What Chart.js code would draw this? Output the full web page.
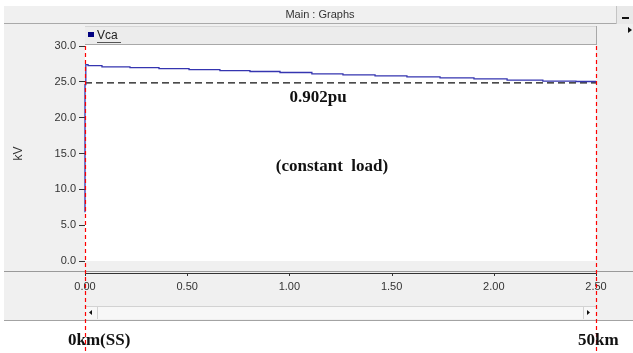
<!DOCTYPE html>
<html>
<head>
<meta charset="utf-8">
<title>Vca</title>
<script src="https://cdn.jsdelivr.net/npm/chart.js@4.4.1/dist/chart.umd.min.js"></script>
<style>
  html, body { margin: 0; padding: 0; background: #fff; overflow: hidden; }
  #graph { display: block; }
</style>
</head>
<body>
<canvas id="graph" width="633" height="353"></canvas>
<script>
// feeder length axis (same units as the graph x axis) and voltage in kV
const distance = [0, 0.004, 0.015, 0.083, 0.22, 0.362, 0.509, 0.66, 0.807, 0.954, 1.11, 1.262, 1.419, 1.575, 1.737, 1.903, 2.065, 2.24, 2.402, 2.5];
const vca = [6.8, 24.6, 27.4, 27.25, 27.1, 26.97, 26.83, 26.7, 26.57, 26.44, 26.3, 26.1, 25.97, 25.83, 25.68, 25.55, 25.4, 25.25, 25.1, 25.05];

const refLevel = 24.85;          // 0.902 pu limit
const refLabel = '0.902pu';
const caseLabel = '(constant  load)';
const startLabel = '0km(SS)';
const endLabel = '50km';
const markers = [0, 2.5];        // substation and feeder end

const uiFont = 'Arial, "Liberation Sans", sans-serif';
const serifBold = 'bold 17px "Liberation Serif", "Times New Roman", serif';

// window frame, legend strip, scrollbar etc
const frame = {
  id: 'frame',
  beforeDraw(chart) {
    const c = chart.ctx;
    const a = chart.chartArea;
    const W = chart.width;
    c.save();
    c.fillStyle = '#fff';
    c.fillRect(0, 0, W, chart.height);

    // title bar
    c.fillStyle = '#f0f0f0';
    c.fillRect(4, 6, W - 4, 18);
    c.fillStyle = '#a9a9a9';
    c.fillRect(4, 23, W - 4, 1);
    c.fillStyle = '#333';
    c.font = '11px ' + uiFont;
    c.textAlign = 'center';
    c.textBaseline = 'middle';
    c.fillText('Main : Graphs', 320, 15);
    // minimize button
    c.fillStyle = '#e9e9e9';
    c.fillRect(617, 6, 16, 18);
    c.fillStyle = '#c4c4c4';
    c.fillRect(616, 6, 1, 18);
    c.fillStyle = '#111';
    c.fillRect(622, 17, 7, 2);

    // panel
    c.fillStyle = '#f0f0f0';
    c.fillRect(4, 24, W - 4, 296);
    c.fillStyle = '#a3a3a3';
    c.fillRect(4, 320, W - 4, 1);

    // legend strip
    c.fillStyle = '#ececec';
    c.fillRect(a.left, 27, a.right - a.left, 18);
    c.fillStyle = '#d6d6d6';
    c.fillRect(a.left, 26, a.right - a.left, 1);
    c.fillStyle = '#a8a8a8';
    c.fillRect(a.left, 44, a.right - a.left, 1);
    c.fillRect(a.right, 26, 1, 19);
    const ds = chart.data.datasets[0];
    c.fillStyle = '#000080';
    c.fillRect(88, 32, 6, 5);
    c.fillStyle = '#222';
    c.textAlign = 'left';
    c.font = '12px ' + uiFont;
    c.fillText(ds.label, 97, 36);
    c.fillStyle = '#555';
    c.fillRect(97, 42, 24, 1);

    // right side arrow
    c.fillStyle = '#111';
    c.beginPath();
    c.moveTo(628, 27);
    c.lineTo(632, 30);
    c.lineTo(628, 33);
    c.fill();

    // plot area
    c.fillStyle = '#fff';
    c.fillRect(a.left, 45, a.right - a.left, a.bottom - 45);

    // x axis lines and ticks
    const x = chart.scales.x;
    c.fillStyle = '#9a9a9a';
    c.fillRect(4, 271, W - 4, 1);
    c.fillStyle = '#333';
    c.fillRect(a.left, 273, a.right - a.left + 1, 1);
    x.ticks.forEach(t => {
      const px = Math.round(x.getPixelForValue(t.value));
      c.fillRect(px, 273, 1, 3);
    });

    // scrollbar
    c.fillStyle = '#f7f7f7';
    c.fillRect(a.left, 306, a.right - a.left, 13);
    c.fillStyle = '#d2d2d2';
    c.fillRect(a.left, 306, a.right - a.left, 1);
    c.fillRect(97, 306, 1, 13);
    c.fillRect(a.right - 13, 306, 1, 13);
    c.fillStyle = '#111';
    c.beginPath();
    c.moveTo(92, 310);
    c.lineTo(89, 312.5);
    c.lineTo(92, 315);
    c.fill();
    c.beginPath();
    c.moveTo(587, 310);
    c.lineTo(590, 312.5);
    c.lineTo(587, 315);
    c.fill();
    c.restore();
  },
  afterDraw(chart) {
    const c = chart.ctx;
    const x = chart.scales.x;
    const a = chart.chartArea;
    c.save();
    // red position markers
    c.strokeStyle = '#ff0000';
    c.lineWidth = 1.2;
    c.setLineDash([4, 3]);
    markers.forEach(m => {
      const px = Math.round(x.getPixelForValue(m)) + 0.5;
      c.beginPath();
      c.moveTo(px, a.top);
      c.lineTo(px, chart.height);
      c.stroke();
    });
    c.setLineDash([]);

    // annotations
    c.fillStyle = '#111';
    c.font = serifBold;
    c.textAlign = 'center';
    c.textBaseline = 'alphabetic';
    c.fillText(refLabel, 318, 102);
    c.fillText(caseLabel, 332, 171);
    c.textAlign = 'left';
    c.fillText(startLabel, 68, 345);
    c.fillText(endLabel, 578, 345);
    c.restore();
  }
};

new Chart(document.getElementById('graph'), {
  type: 'line',
  data: {
    datasets: [{
      label: 'Vca',
      data: distance.map((d, i) => ({ x: d, y: vca[i] })),
      borderColor: '#3535b0',
      borderWidth: 1.3,
      pointRadius: 0,
      stepped: 'after',
      clip: 4
    }, {
      label: refLabel,
      data: [{ x: markers[0], y: refLevel }, { x: markers[1], y: refLevel }],
      borderColor: '#111',
      borderWidth: 1.2,
      borderDash: [7, 4],
      pointRadius: 0
    }]
  },
  options: {
    responsive: false,
    animation: false,
    devicePixelRatio: 1,
    layout: { padding: { top: 46, right: 37, left: 0, bottom: 0 } },
    plugins: { legend: { display: false }, tooltip: { enabled: false } },
    scales: {
      x: {
        type: 'linear',
        min: 0,
        max: 2.5,
        border: { display: false },
        grid: { display: false, drawTicks: false },
        ticks: {
          stepSize: 0.5,
          padding: 19,
          color: '#333',
          font: { family: uiFont, size: 11 },
          maxRotation: 0,
          callback: v => v.toFixed(2)
        },
        afterFit: s => { s.height = 92; }
      },
      y: {
        min: 0,
        max: 30,
        border: { display: false },
        grid: { drawOnChartArea: false, drawTicks: true, tickLength: 6, color: '#333' },
        ticks: {
          stepSize: 5,
          padding: 3,
          color: '#333',
          font: { family: uiFont, size: 11 },
          callback: v => v.toFixed(1)
        },
        title: {
          display: true,
          text: 'kV',
          color: '#333',
          font: { family: uiFont, size: 12 },
          padding: { top: 11, bottom: 0 }
        },
        afterFit: s => { s.width = 85; }
      }
    }
  },
  plugins: [frame]
});
</script>
</body>
</html>
